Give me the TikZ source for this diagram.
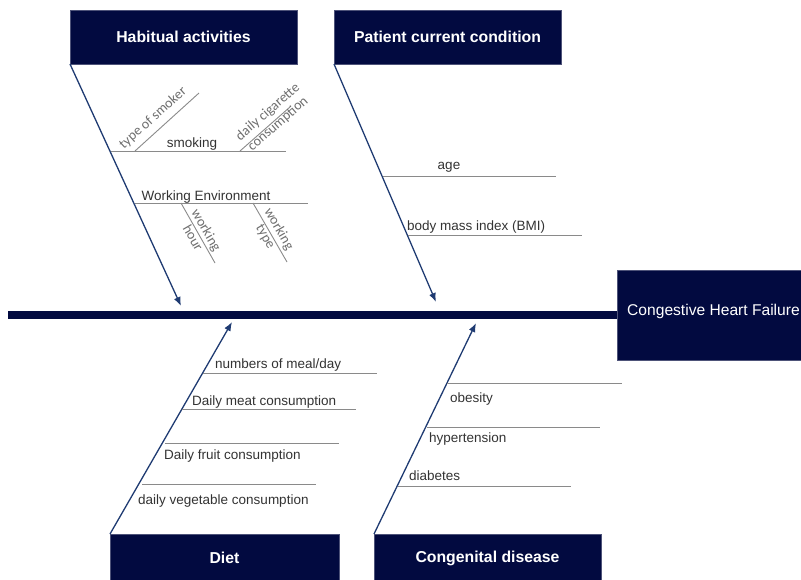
\documentclass[tikz,border=0pt]{standalone}
\usepackage{fontspec}
\setmainfont{Liberation Sans}
\newfontfamily\carl{Carlito}
\usetikzlibrary{arrows.meta}
\definecolor{navy}{HTML}{020A40}
\definecolor{arrowblue}{HTML}{1F3B72}
\definecolor{branchgray}{HTML}{8A8A8A}
\definecolor{labelgray}{HTML}{333333}
\definecolor{rotgray}{HTML}{6E6E6E}
\tikzset{
  titlebox/.style={draw=navy!70, fill=navy, text=white, font=\fontsize{15.8}{18}\selectfont\bfseries, minimum width=227pt, minimum height=54pt, inner sep=0pt, outer sep=0pt},
  headbox/.style={draw=navy!70, fill=navy, text=white, font=\fontsize{15.6}{18}\selectfont, minimum width=193pt, minimum height=90pt, inner sep=0pt, outer sep=0pt},
  spine/.style={line width=8pt, navy},
  bone/.style={arrowblue, line width=1.3pt, -{Latex[length=9pt,width=7pt]}},
  branch/.style={branchgray, line width=0.9pt},
  lab/.style={text=labelgray, font=\fontsize{13.5}{16}\selectfont, inner sep=0pt},
  rotlab/.style={text=rotgray, font=\carl\fontsize{14}{15.5}\selectfont, inner sep=0pt, align=center},
}
\begin{document}
\begin{tikzpicture}[x=1pt, y=-1pt]
\useasboundingbox (0,0) rectangle (801,579);
\clip (0,0) rectangle (801,579);

% boxes
\node[titlebox, anchor=north west] (hab) at (70,10) {Habitual activities};
\node[titlebox, anchor=north west] (pat) at (334,10) {Patient current condition};
\node[titlebox, anchor=north west, minimum width=229pt, minimum height=48pt] (diet) at (110,534) {Diet};
\node[titlebox, anchor=north west, minimum height=48pt] (cong) at (374,534) {Congenital disease};
\node[headbox, anchor=north west] (head) at (617,270) {\raisebox{10pt}{Congestive Heart Failure}};

% spine
\coordinate (tail) at (8,315);
\draw[spine] (tail) -- (tail -| head.west);

% bones
\coordinate (habend) at (181,306);
\coordinate (patend) at (436,302);
\coordinate (dietend) at (232,322);
\coordinate (congend) at (476,323);
\draw[bone] (hab.south west) -- (habend);
\draw[bone] (pat.south west) -- (patend);
\draw[bone] (diet.north west) -- (dietend);
\draw[bone] (cong.north west) -- (congend);

% Habitual activities branches
\draw[branch] (111,151) -- (286,151);
\draw[branch] (135,151) -- (199,93);
\draw[branch] (240,151) -- (290,107);
\node[lab] (smoking) at (192,144) {smoking};
\node[rotlab, rotate=42] (smoker) at (153,118) {type of smoker};
\node[rotlab, rotate=41] (cig) at (273,118) {daily cigarette\\consumption};

\draw[branch] (135,203) -- (308,203);
\draw[branch] (181,203) -- (215,263);
\draw[branch] (253,203) -- (287,262);
\node[lab] (work) at (206,197) {Working Environment};
\node[rotlab, rotate=-60] (whour) at (200,234) {working\\hour};
\node[rotlab, rotate=-60] (wtype) at (272,233) {working\\type};

% Patient current condition branches
\draw[branch] (383,176) -- (556,176);
\draw[branch] (408,235) -- (582,235);
\node[lab] (age) at (449,167) {age};
\node[lab, anchor=west] (bmi) at (407,227) {body mass index (BMI)};

% Diet branches
\draw[branch] (203,373) -- (377,373);
\draw[branch] (182,409) -- (356,409);
\draw[branch] (165,443) -- (339,443);
\draw[branch] (142,484) -- (316,484);
\node[lab, anchor=west] (meal) at (215,365) {numbers of meal/day};
\node[lab, anchor=west] (meat) at (192,402) {Daily meat consumption};
\node[lab, anchor=west] (fruit) at (164,456) {Daily fruit consumption};
\node[lab, anchor=west] (veg) at (138,501) {daily vegetable consumption};

% Congenital disease branches
\draw[branch] (447,383) -- (622,383);
\draw[branch] (427,427) -- (600,427);
\draw[branch] (398,486) -- (571,486);
\node[lab, anchor=west] (obes) at (450,399) {obesity};
\node[lab, anchor=west] (hyp) at (429,439) {hypertension};
\node[lab, anchor=west] (diab) at (409,476) {diabetes};
\end{tikzpicture}
\end{document}
